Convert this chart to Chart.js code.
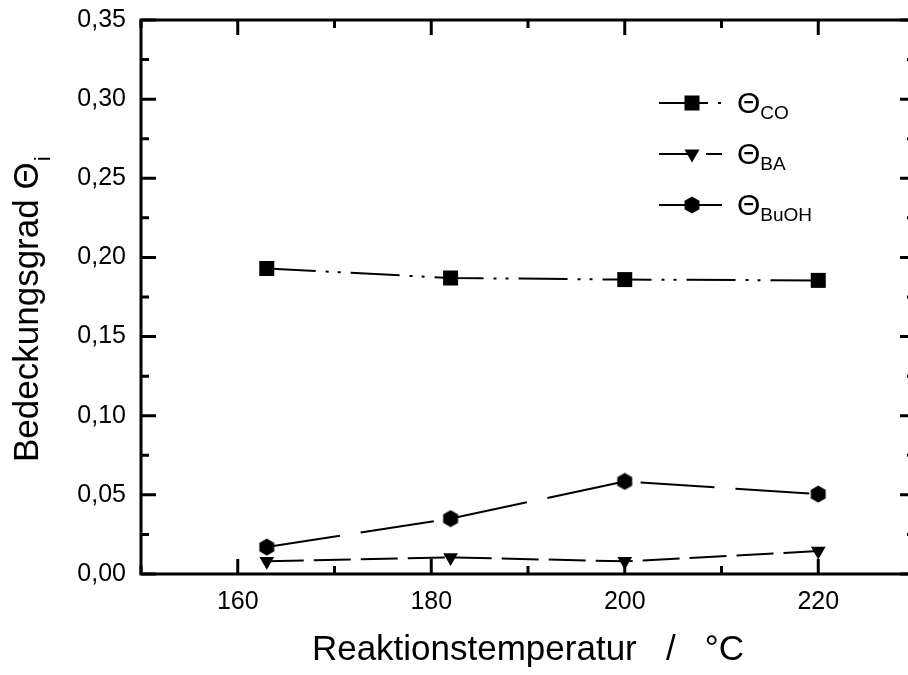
<!DOCTYPE html>
<html>
<head>
<meta charset="utf-8">
<script src="https://cdn.jsdelivr.net/npm/chart.js@4/dist/chart.umd.min.js"></script>
<style>
  html, body { margin: 0; padding: 0; background: #fff; overflow: hidden; }
  #wrap { width: 908px; height: 675px; overflow: hidden; }
</style>
</head>
<body>
<div id="wrap"><canvas id="c" width="920" height="675"></canvas></div>
<script>
// data
const temps = [163, 182, 200, 220];
const thetaCO = [0.193, 0.187, 0.186, 0.1855];
const thetaBA = [0.008, 0.0105, 0.008, 0.0145];
const thetaBuOH = [0.017, 0.035, 0.0585, 0.0505];
const xTicks = [160, 180, 200, 220];
const yTicks = [0, 0.05, 0.10, 0.15, 0.20, 0.25, 0.30, 0.35];
const legendSubs = ['CO', 'BA', 'BuOH'];

const FONT = '"Liberation Sans", Arial, sans-serif';

// hexagon marker
const hex = document.createElement('canvas');
hex.width = 18; hex.height = 18;
(function () {
  const g = hex.getContext('2d');
  g.beginPath();
  for (let i = 0; i < 6; i++) {
    const a = Math.PI / 2 + i * Math.PI / 3;
    const px = 9 + 8.6 * Math.cos(a), py = 9 + 8.6 * Math.sin(a);
    i ? g.lineTo(px, py) : g.moveTo(px, py);
  }
  g.closePath();
  g.fillStyle = '#000';
  g.fill();
})();

const pts = arr => temps.map((t, i) => ({ x: t, y: arr[i] }));

const dashes = [
  [49, 10, 3, 9, 3, 10],
  [37, 10],
  [74, 21]
];

function drawMarker(ctx, k, x, y) {
  ctx.fillStyle = '#000';
  if (k === 0) {
    ctx.fillRect(x - 7.5, y - 7.5, 15, 15);
  } else if (k === 1) {
    ctx.beginPath();
    ctx.moveTo(x - 7.5, y - 4.5);
    ctx.lineTo(x + 7.5, y - 4.5);
    ctx.lineTo(x, y + 8.5);
    ctx.closePath();
    ctx.fill();
  } else {
    ctx.drawImage(hex, x - 9, y - 9);
  }
}

const decor = {
  id: 'decor',
  afterDraw(chart) {
    const { ctx, chartArea: a, scales: { x, y } } = chart;
    ctx.save();
    ctx.strokeStyle = '#000';
    ctx.lineWidth = 3;
    ctx.setLineDash([]);
    ctx.strokeRect(a.left, a.top, a.right - a.left, a.bottom - a.top);

    // inward ticks on all four sides
    ctx.beginPath();
    for (let v = 150; v <= 230; v += 10) {
      const px = x.getPixelForValue(v);
      const len = v % 20 === 0 ? 15 : 8;
      ctx.moveTo(px, a.bottom); ctx.lineTo(px, a.bottom - len);
      ctx.moveTo(px, a.top); ctx.lineTo(px, a.top + len);
    }
    for (let i = 0; i <= 14; i++) {
      const py = y.getPixelForValue(i * 0.025);
      const len = i % 2 === 0 ? 15 : 8;
      ctx.moveTo(a.left, py); ctx.lineTo(a.left + len, py);
      ctx.moveTo(a.right, py); ctx.lineTo(a.right - len, py);
    }
    ctx.stroke();

    // legend
    const ly = [103, 154, 205];
    for (let k = 0; k < 3; k++) {
      ctx.lineWidth = 2;
      ctx.setLineDash(dashes[k]);
      ctx.beginPath();
      ctx.moveTo(659, ly[k]);
      ctx.lineTo(722, ly[k]);
      ctx.stroke();
      ctx.setLineDash([]);
      drawMarker(ctx, k, 692, ly[k]);
      ctx.fillStyle = '#000';
      ctx.textAlign = 'left';
      ctx.textBaseline = 'alphabetic';
      ctx.font = '30px ' + FONT;
      ctx.fillText('Θ', 737, ly[k] + 10);
      const w = ctx.measureText('Θ').width;
      ctx.font = '19px ' + FONT;
      ctx.fillText(legendSubs[k], 737 + w, ly[k] + 16);
    }

    // axis titles
    ctx.font = '35px ' + FONT;
    ctx.textAlign = 'center';
    ctx.fillText('Reaktionstemperatur   /   °C', (a.left + a.right) / 2, 660);

    ctx.translate(38, 462);
    ctx.rotate(-Math.PI / 2);
    ctx.textAlign = 'left';
    ctx.font = '35px ' + FONT;
    const t = 'Bedeckungsgrad Θ';
    ctx.fillText(t, 0, 0);
    const tw = ctx.measureText(t).width;
    ctx.font = '22px ' + FONT;
    ctx.fillText('i', tw + 1, 12);
    ctx.restore();
  }
};

const styles = ['rect', 'triangle', hex];
const radii = [10.6, 8.5, 9];
const series = [thetaCO, thetaBA, thetaBuOH];

new Chart(document.getElementById('c'), {
  type: 'scatter',
  data: {
    datasets: series.map((s, k) => ({
      data: pts(s),
      showLine: true,
      borderColor: '#000',
      backgroundColor: '#000',
      borderWidth: 2,
      borderDash: dashes[k],
      pointStyle: styles[k],
      rotation: k === 1 ? 180 : 0,
      pointRadius: radii[k],
      pointBorderWidth: 0,
      tension: 0
    }))
  },
  options: {
    responsive: false,
    animation: false,
    events: [],
    layout: { autoPadding: false, padding: { left: 0, top: 20, right: 5, bottom: 0 } },
    plugins: { legend: { display: false }, tooltip: { enabled: false } },
    scales: {
      x: {
        type: 'linear',
        min: 150, max: 230,
        grid: { display: false, drawTicks: false },
        border: { display: false },
        afterBuildTicks: s => { s.ticks = xTicks.map(v => ({ value: v })); },
        afterFit: s => { s.height = 101; s.paddingLeft = 0; s.paddingRight = 0; },
        ticks: { color: '#000', padding: 13, font: { family: FONT, size: 25 } }
      },
      y: {
        min: 0, max: 0.35,
        grid: { display: false, drawTicks: false },
        border: { display: false },
        afterBuildTicks: s => { s.ticks = yTicks.map(v => ({ value: v })); },
        afterFit: s => { s.width = 141; s.paddingTop = 0; s.paddingBottom = 0; },
        ticks: {
          color: '#000', padding: 15, font: { family: FONT, size: 25 },
          callback: v => v.toFixed(2).replace('.', ',')
        }
      }
    }
  },
  plugins: [decor]
});
</script>
</body>
</html>
